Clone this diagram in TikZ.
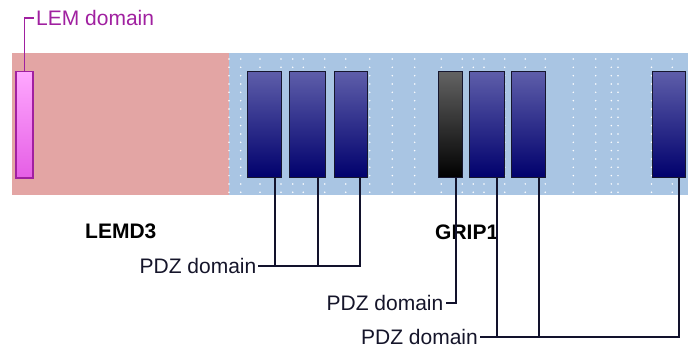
\documentclass[tikz,border=0pt]{standalone}
\usepackage{fontspec}
\setmainfont{Liberation Sans}
\definecolor{pinkbg}{HTML}{E3A5A4}
\definecolor{bluebg}{HTML}{A9C5E3}
\definecolor{pdztop}{HTML}{5E5EAA}
\definecolor{pdzbot}{HTML}{00006C}
\definecolor{gtop}{HTML}{636363}
\definecolor{gbot}{HTML}{000000}
\definecolor{boxline}{HTML}{16162E}
\definecolor{connline}{HTML}{12122C}
\definecolor{lemline}{HTML}{A020A0}
\definecolor{lemtop}{HTML}{FFA8FF}
\definecolor{lembot}{HTML}{E55EE5}
\definecolor{txt}{HTML}{15152A}
\begin{document}
\begin{tikzpicture}[x=1pt,y=-1pt,
  every node/.style={font=\fontsize{21}{25}\selectfont},
  pdzbox/.style={draw=boxline,line width=1.1pt,top color=pdztop,bottom color=pdzbot,
    minimum width=#1,minimum height=106.6pt,inner sep=0pt,anchor=north west},
  darkbox/.style={draw=boxline,line width=1.1pt,top color=gtop,bottom color=gbot,
    minimum width=#1,minimum height=106.6pt,inner sep=0pt,anchor=north west},
  lembox/.style={draw=lemline,line width=1.2pt,top color=lemtop,bottom color=lembot,
    minimum width=17pt,minimum height=106.6pt,inner sep=0pt,anchor=north west},
  conn/.style={draw=connline,line width=1.8pt},
  lemconn/.style={draw=lemline,line width=1.4pt},
  pdzlabel/.style={anchor=east,inner sep=1.5pt,text=txt},
  protlabel/.style={anchor=west,inner sep=0pt,font=\fontsize{21}{25}\selectfont\bfseries}
]
\useasboundingbox (0,0) rectangle (688,349);
% background strip
\fill[pinkbg] (12,53) rectangle (229,195);
\fill[bluebg] (229,53) rectangle (688,195);
% dots
\foreach \x in {229,240.7,260,281,292.7,303.3,324.7,345.7,369.7,392.3,414.7,441.3,462.3,473.3,484,504.7,525.3,545.3,573.3,595.7,611.3,618,651.5,672.3}
  \foreach \k in {0,...,16}
    \fill[white] ({\x},{59+8.33*\k}) circle (0.85pt);
% LEM domain
\node[lembox] (lem) at (15.3,70.7) {};
\node[anchor=west,inner sep=2pt,text=lemline] (t0) at (34,18) {LEM domain};
\draw[lemconn] (lem.north) |- (t0.west);
% PDZ boxes
\node[pdzbox=34pt] (b1) at (247.3,70.7) {};
\node[pdzbox=36pt] (b2) at (288.7,70.7) {};
\node[pdzbox=32.4pt] (b3) at (334.3,70.7) {};
\node[darkbox=24.3pt] (b4) at (438,70.7) {};
\node[pdzbox=35pt] (b5) at (468.7,70.7) {};
\node[pdzbox=34.3pt] (b6) at (510.7,70.7) {};
\node[pdzbox=33.3pt] (b7) at (652,70.7) {};
% protein labels
\node[protlabel] (lemd3) at (85,231) {LEMD3};
\node[protlabel] (grip1) at (435,232) {GRIP1};
% PDZ labels
\node[pdzlabel] (t1) at (258,266) {PDZ domain};
\node[pdzlabel,inner sep=2.5pt] (t2) at (446,303) {PDZ domain};
\node[pdzlabel,inner sep=2pt] (t3) at (480,337) {PDZ domain};
% connector feet
\foreach \b in {b1,b2,b3,b4,b5,b6,b7}
  \coordinate (f\b) at ([xshift=-7.5pt]\b.south east);
% connectors
\draw[conn] (fb1) -- (fb1 |- t1.east);
\draw[conn] (fb2) -- (fb2 |- t1.east);
\draw[conn] (fb3) |- (t1.east);
\draw[conn] (fb4) |- (t2.east);
\draw[conn] (fb5) -- (fb5 |- t3.east);
\draw[conn] (fb6) -- (fb6 |- t3.east);
\draw[conn] (fb7) |- (t3.east);
\end{tikzpicture}
\end{document}
